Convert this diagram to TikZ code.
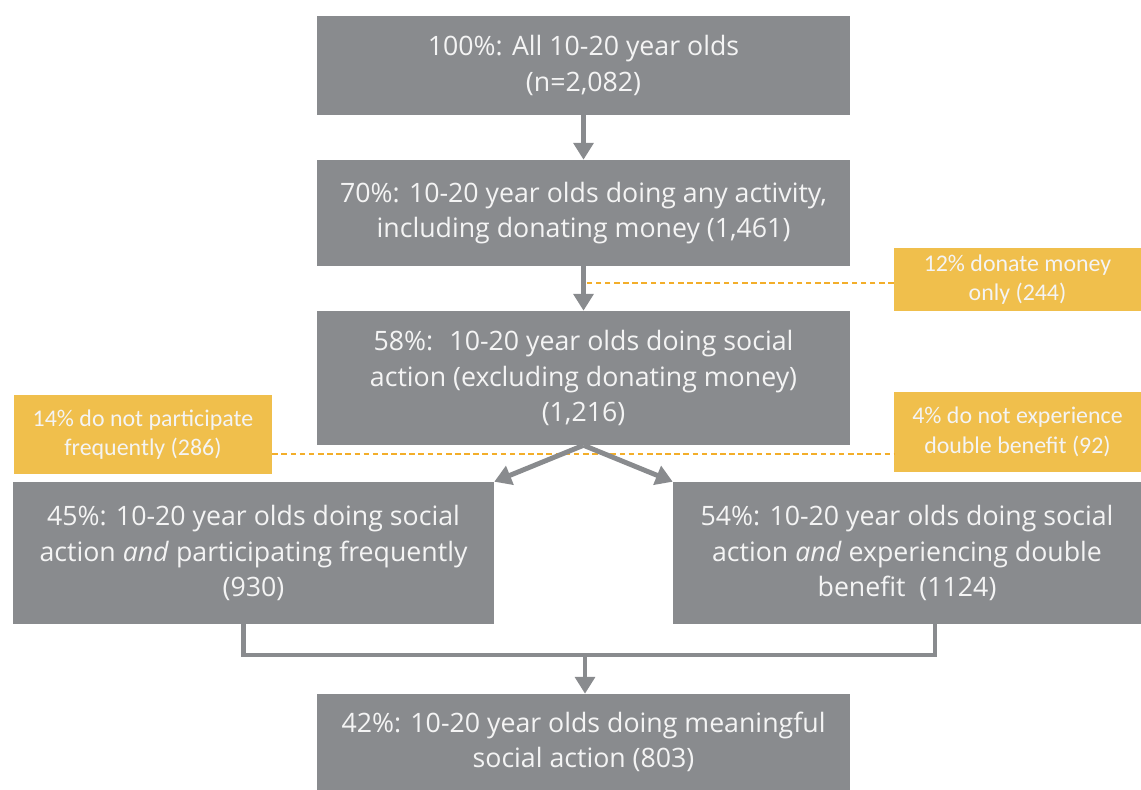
\documentclass[tikz,border=0pt]{standalone}
\usepackage{fontspec}
\setmainfont{Open Sans}
\newfontfamily\notefont{Carlito}
\usepackage{xcolor}
\usepackage{tikz}
\usetikzlibrary{arrows.meta}

\definecolor{boxgray}{HTML}{898B8E}
\definecolor{noteyellow}{HTML}{F0BF4C}
\definecolor{dashorange}{HTML}{F3AE2A}
\definecolor{textwhite}{HTML}{F4F4F4}

\tikzset{
	stage/.style={fill=boxgray, text=textwhite, align=center, inner sep=0pt,
		font=\fontsize{19}{25}\selectfont},
	note/.style={fill=noteyellow, text=textwhite, align=center, inner sep=0pt,
		font=\notefont\fontsize{17}{21}\selectfont},
	flow/.style={draw=boxgray, line width=3.5pt},
	flowarrow/.style={flow, -{Triangle[width=14pt,length=12pt]}},
	cut/.style={draw=dashorange, line width=1.5pt, dash pattern=on 4pt off 2.5pt},
}

\begin{document}
\begin{tikzpicture}
		\useasboundingbox (0,0) rectangle (28.525,-19.75);
		% main stages
		\node[stage, minimum width=13.325cm, minimum height=2.475cm] (all) at (14.5875,-1.6375)
			{100\%: All 10-20 year olds\\(n=2,082)};
		\node[stage, minimum width=13.325cm, minimum height=2.65cm] (any) at (14.5875,-5.325)
			{70\%: 10-20 year olds doing any activity,\\including donating money (1,461)};
		\node[stage, minimum width=13.325cm, minimum height=3.35cm] (social) at (14.5875,-9.45)
			{58\%:~ 10-20 year olds doing social\\action (excluding donating money)\\(1,216)};
		\node[stage, minimum width=12.025cm, minimum height=3.55cm] (freq) at (6.3375,-13.825)
			{45\%: 10-20 year olds doing social\\action \textit{and} participating frequently\\(930)};
		\node[stage, minimum width=11.7cm, minimum height=3.55cm] (double) at (22.675,-13.825)
			{54\%: 10-20 year olds doing social\\action \textit{and} experiencing double\\benefit~ (1124)};
		\node[stage, minimum width=13.325cm, minimum height=2.4cm] (meaning) at (14.5875,-18.55)
			{42\%: 10-20 year olds doing meaningful\\social action (803)};
		% drop-outs
		\node[note, minimum width=6.175cm, minimum height=1.575cm] (money) at (25.4375,-6.9875)
			{12\% donate money\\only (244)};
		\node[note, minimum width=6.45cm, minimum height=1.975cm] (nofreq) at (3.575,-10.8625)
			{14\% do not participate\\frequently (286)};
		\node[note, minimum width=6.175cm, minimum height=2cm] (nodouble) at (25.4375,-10.8)
			{4\% do not experience\\double benefit (92)};
		\coordinate (drop) at (14.5875,-7.075);
		\coordinate (split) at (14.5875,-11.35);
		\coordinate (merge) at (14.625,-16.375);
		% dashed cuts
		\draw[cut] (drop -| money.west) -- (drop);
		\draw[cut] (split -| nofreq.east) -- (split -| nodouble.west);
		% arrows
		\draw[flowarrow] (all) -- (any);
		\draw[flowarrow] (any) -- (social);
		\draw[flowarrow] (social.south) -- (freq.north east);
		\draw[flowarrow] (social.south) -- (double.north west);
		\draw[flow] ([xshift=-0.25cm]freq.south) |- (merge) -| ([xshift=0.7cm]double.south);
		\draw[flowarrow] (merge) -- (meaning.north -| merge);
	\end{tikzpicture}
\end{document}
